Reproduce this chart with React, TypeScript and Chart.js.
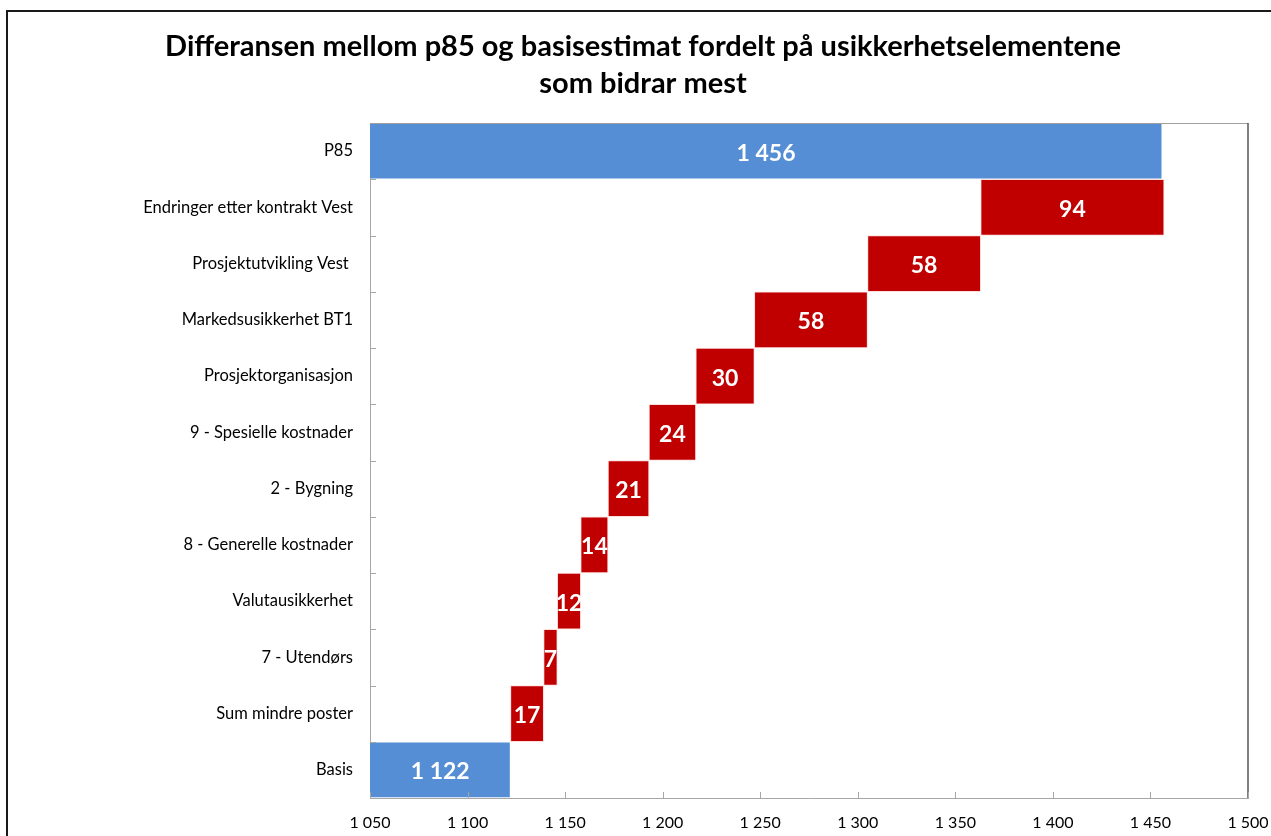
import React, { useEffect, useRef } from "react";
import { Chart, registerables } from "chart.js";

Chart.register(...registerables);

// Categories from top to bottom
const categories = [
  "P85",
  "Endringer etter kontrakt Vest",
  "Prosjektutvikling Vest ",
  "Markedsusikkerhet BT1",
  "Prosjektorganisasjon",
  "9 - Spesielle kostnader",
  "2 - Bygning",
  "8 - Generelle kostnader",
  "Valutausikkerhet",
  "7 - Utendørs",
  "Sum mindre poster",
  "Basis",
];
// Bar amounts (top to bottom)
const amounts = [1456, 94, 58, 58, 30, 24, 21, 14, 12, 7, 17, 1122];
// Which bars are totals (blue) vs increments (red)
const isTotal = [true, false, false, false, false, false, false, false, false, false, false, true];
const barLabels = ["1 456", "94", "58", "58", "30", "24", "21", "14", "12", "7", "17", "1 122"];

const xTicks = [1050, 1100, 1150, 1200, 1250, 1300, 1350, 1400, 1450, 1500];
const titleLines = [
  "Differansen mellom p85 og basisestimat fordelt på usikkerhetselementene",
  "som bidrar mest",
];

const BLUE = "#558ED5";
const RED = "#C00000";
const FONT = "Lato, 'Open Sans', sans-serif";

function buildRanges(): [number, number][] {
  const n = amounts.length;
  const ranges: [number, number][] = new Array(n);
  let running = 0;
  for (let i = n - 1; i >= 0; i--) {
    if (isTotal[i]) {
      ranges[i] = [0, amounts[i]];
      running = amounts[i];
    } else {
      ranges[i] = [running, running + amounts[i]];
      running += amounts[i];
    }
  }
  return ranges;
}

const decorPlugin = {
  id: "decor",
  beforeDraw(chart: any) {
    const ctx = chart.ctx;
    ctx.save();
    ctx.fillStyle = "#fff";
    ctx.fillRect(0, 0, chart.width, chart.height);
    // outer frame
    ctx.strokeStyle = "#1a1a1a";
    ctx.lineWidth = 2;
    ctx.beginPath();
    ctx.moveTo(7, 840);
    ctx.lineTo(7, 11);
    ctx.lineTo(1280, 11);
    ctx.stroke();
    // title
    ctx.fillStyle = "#000";
    ctx.font = `bold 29px ${FONT}`;
    ctx.textAlign = "center";
    ctx.textBaseline = "middle";
    ctx.fillText(titleLines[0], 643, 47);
    ctx.fillText(titleLines[1], 643, 84);
    ctx.restore();
  },
  afterDatasetsDraw(chart: any) {
    const ctx = chart.ctx;
    const area = chart.chartArea;
    const meta = chart.getDatasetMeta(0);
    ctx.save();
    // bar labels
    ctx.fillStyle = "#fff";
    ctx.font = `bold 23px ${FONT}`;
    ctx.textAlign = "center";
    ctx.textBaseline = "middle";
    meta.data.forEach((bar: any, i: number) => {
      const left = Math.max(Math.min(bar.x, bar.base), area.left);
      const right = Math.max(bar.x, bar.base);
      ctx.fillText(barLabels[i], (left + right) / 2, bar.y + 2);
    });
    // plot borders: top and right
    ctx.strokeStyle = "#a0a0a0";
    ctx.lineWidth = 1;
    ctx.beginPath();
    ctx.moveTo(area.left, area.top + 0.5);
    ctx.lineTo(area.right, area.top + 0.5);
    ctx.stroke();
    ctx.strokeStyle = "#555";
    ctx.lineWidth = 1.5;
    ctx.beginPath();
    ctx.moveTo(area.right, area.top);
    ctx.lineTo(area.right, area.bottom);
    ctx.stroke();
    // inner ticks
    ctx.strokeStyle = "#a6a6a6";
    ctx.lineWidth = 1;
    const xs = chart.scales.x;
    xTicks.forEach((v) => {
      const px = Math.round(xs.getPixelForValue(v)) + 0.5;
      ctx.beginPath();
      ctx.moveTo(px, area.bottom);
      ctx.lineTo(px, area.bottom - 6);
      ctx.stroke();
    });
    const n = categories.length;
    const h = (area.bottom - area.top) / n;
    for (let i = 1; i < n; i++) {
      const py = Math.round(area.top + i * h) + 0.5;
      ctx.beginPath();
      ctx.moveTo(area.left, py);
      ctx.lineTo(area.left + 6, py);
      ctx.stroke();
    }
    ctx.restore();
  },
};

export default function App() {
  const ref = useRef<HTMLCanvasElement | null>(null);
  useEffect(() => {
    if (!ref.current) return;
    const ranges = buildRanges();
    const chart = new Chart(ref.current, {
      type: "bar",
      data: {
        labels: categories,
        datasets: [
          {
            data: ranges as any,
            backgroundColor: isTotal.map((t) => (t ? BLUE : RED)),
            borderColor: isTotal.map((t) => (t ? "rgba(255,255,255,0.5)" : "rgba(255,200,200,0.6)")),
            borderWidth: 1,
            borderSkipped: false,
            barPercentage: 1,
            categoryPercentage: 1,
          },
        ],
      },
      plugins: [decorPlugin],
      options: {
        indexAxis: "y",
        responsive: false,
        animation: false,
        layout: { padding: { top: 123, right: 23, left: 0, bottom: 0 } },
        plugins: {
          legend: { display: false },
          title: { display: false },
          tooltip: { enabled: false },
        },
        scales: {
          x: {
            min: 1050,
            max: 1500,
            afterBuildTicks: (scale: any) => {
              scale.ticks = xTicks.map((v) => ({ value: v }));
            },
            afterFit: (scale: any) => {
              scale.height = 38;
              scale.paddingLeft = 0;
              scale.paddingRight = 0;
            },
            grid: { display: true, drawOnChartArea: false, drawTicks: false, color: "#a6a6a6" },
            border: { display: true, color: "#a6a6a6", width: 1 },
            ticks: {
              padding: 15,
              color: "#000",
              font: { family: FONT, size: 16 },
              maxRotation: 0,
              callback: (v: any) => {
                const s = String(v);
                return s.length > 3 ? s.slice(0, s.length - 3) + " " + s.slice(-3) : s;
              },
            },
          },
          y: {
            afterFit: (scale: any) => {
              scale.width = 370;
            },
            grid: { display: false, drawTicks: false },
            border: { display: true, color: "#a6a6a6", width: 1 },
            ticks: {
              padding: 17,
              color: "#000",
              font: { family: FONT, size: 16.5 },
            },
          },
        },
      },
    });
    return () => chart.destroy();
  }, []);
  return (
    <div style={{ position: "fixed", left: 0, top: 0, width: 1271, height: 836, background: "#fff" }}>
      <canvas ref={ref} width={1271} height={836} style={{ display: "block" }} />
    </div>
  );
}
